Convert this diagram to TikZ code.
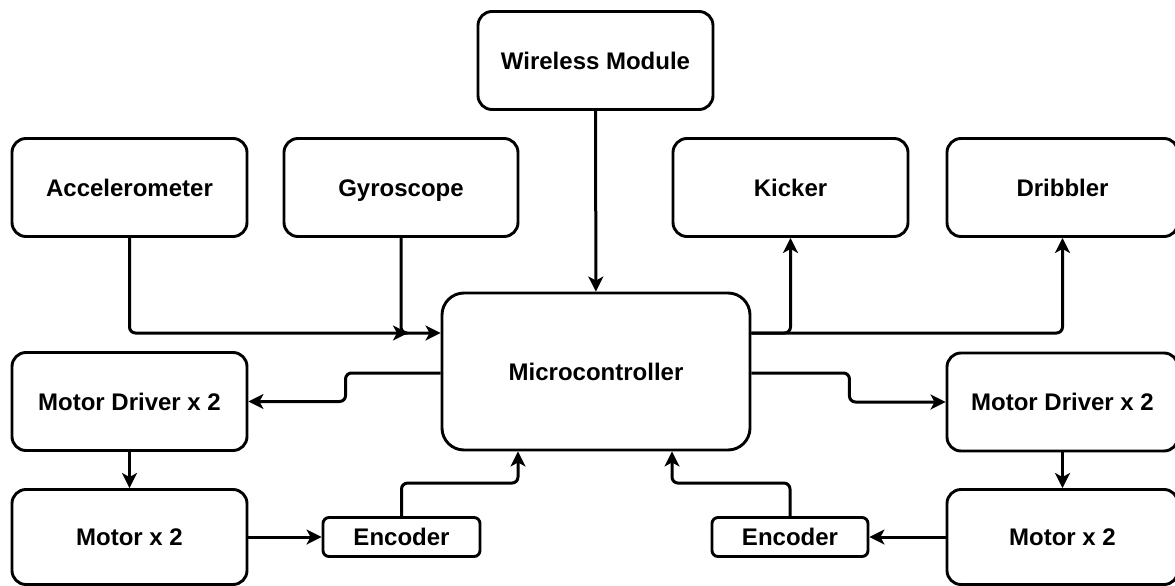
\documentclass[tikz,border=0pt]{standalone}
\usepackage{fontspec}
\setmainfont{Liberation Sans}
\usetikzlibrary{arrows.meta}
\begin{document}
\begin{tikzpicture}[x=1pt,y=-1pt,
  blk/.style={draw=black, line width=2.9pt, fill=white, rounded corners=14pt,
    inner sep=0pt, align=center, text height=17.2pt, text depth=0pt,
    font=\fontsize{24}{28}\selectfont\bfseries},
  big/.style={blk, minimum width=235pt, minimum height=98pt},
  rbig/.style={blk, minimum width=231pt, minimum height=98pt},
  enc/.style={blk, rounded corners=6pt, minimum width=157pt, minimum height=39pt},
  arr/.style={line width=3pt, rounded corners=6pt, line join=round,
    -{Stealth[length=15pt,width=15pt,inset=4pt]}}
]
\useasboundingbox (0,0) rectangle (1175,586);
% nodes
\node[big] (wm) at (595.5,60.5) {Wireless Module};
\node[big] (acc) at (129.5,187.5) {Accelerometer};
\node[big, minimum width=234pt] (gyro) at (401,187.5) {Gyroscope};
\node[big] (kick) at (790.5,187.5) {Kicker};
\node[rbig] (drib) at (1062.5,187.5) {Dribbler};
\node[blk, rounded corners=22pt, minimum width=308pt, minimum height=157pt] (mc) at (596,371.5) {Microcontroller};
\node[big] (mdl) at (129.5,401.5) {Motor Driver x 2};
\node[rbig] (mdr) at (1062.5,402) {Motor Driver x 2};
\node[big, minimum height=95pt] (ml) at (129.5,537) {Motor x 2};
\node[rbig, minimum height=95pt] (mr) at (1062.5,537) {Motor x 2};
\node[enc] (encl) at (401.5,537) {Encoder};
\node[enc, minimum width=156pt] (encr) at (790,537) {Encoder};
\coordinate (gj) at (408,333);
% connectors
\draw[arr] (wm) -- (mc);
\draw[arr] (acc.south) |- ([yshift=38.5pt]mc.west);
\draw[arr] (gyro.south) |- (gj);
\draw[arr] ([yshift=38.5pt]mc.east) -| (kick.south);
\draw[arr] ([yshift=38.5pt]mc.east) -| (drib.south);
\draw[arr] ([yshift=-1.5pt]mc.west) -- ++(-95,0) |- (mdl.east);
\draw[arr] ([yshift=-1.5pt]mc.east) -- ++(98,0) |- (mdr.west);
\draw[arr] (mdl) -- (ml);
\draw[arr] (mdr) -- (mr);
\draw[arr] (ml.east) -- (encl.west);
\draw[arr] (mr.west) -- (encr.east);
\draw[arr] (encl.north) -- ++(0,-33) -| ([xshift=-78pt]mc.south);
\draw[arr] (encr.north) -- ++(0,-33) -| ([xshift=76pt]mc.south);
\end{tikzpicture}
\end{document}
